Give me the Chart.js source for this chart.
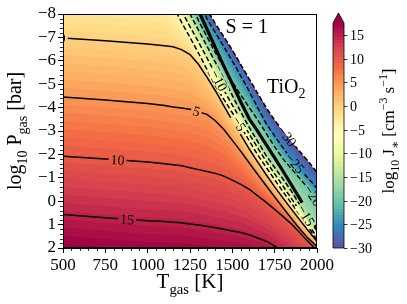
<!DOCTYPE html>
<html>
<head>
<meta charset="utf-8">
<script src="https://cdn.jsdelivr.net/npm/chart.js@4.4.1/dist/chart.umd.min.js"></script>
<style>
  html, body { margin: 0; padding: 0; background: #fff; }
</style>
</head>
<body>
<canvas id="grafico" width="407" height="304"></canvas>
<script>
// Temperaturas de la malla (K)
const tGrid = [500, 750, 1000, 1100, 1150, 1200, 1250, 1300, 1350, 1400, 1450, 1500, 1550, 1600, 1650, 1700, 1750, 1800, 1850, 1900, 1950, 2000];

// log10 P (bar) de cada contorno de log10 J*
const nivel15 = [0.57, 0.71, 0.84, 0.87, 0.90, 0.92, 0.97, 1.02, 1.07, 1.13, 1.20, 1.27, 1.34, 1.44, 1.57, 1.71, 1.92, 2.15, 2.39, 2.62, 2.90, 3.18];
const nivel10 = [-1.92, -1.80, -1.67, -1.60, -1.56, -1.52, -1.43, -1.35, -1.27, -1.19, -1.07, -0.90, -0.72, -0.51, -0.23, 0.05, 0.35, 0.66, 0.98, 1.36, 1.74, 2.11];
const nivel5 = [-4.45, -4.33, -4.18, -4.09, -4.03, -3.98, -3.93, -3.82, -3.71, -3.44, -3.06, -2.60, -2.13, -1.63, -1.14, -0.66, -0.18, 0.29, 0.75, 1.20, 1.60, 1.94];
const nivel0 = [-6.97, -6.86, -6.72, -6.64, -6.60, -6.48, -6.27, -5.85, -5.30, -4.72, -4.07, -3.44, -2.83, -2.23, -1.67, -1.13, -0.61, -0.12, 0.35, 0.82, 1.27, 1.72];
const nivelM5 = [-9.41, -9.34, -9.21, -9.03, -8.33, -7.65, -7.00, -6.33, -5.63, -4.93, -4.35, -3.78, -3.19, -2.58, -1.98, -1.45, -0.92, -0.40, 0.10, 0.59, 1.12, 1.68];
const nivelM10 = [-10.31, -10.21, -10.10, -9.47, -8.95, -8.14, -7.46, -6.81, -6.13, -5.43, -4.74, -4.11, -3.48, -2.87, -2.27, -1.70, -1.17, -0.64, -0.10, 0.44, 0.99, 1.55];
const nivelM15 = [-11.17, -10.98, -10.80, -10.36, -9.65, -8.88, -8.00, -7.31, -6.63, -5.93, -5.22, -4.52, -3.81, -3.15, -2.55, -1.95, -1.44, -0.94, -0.42, 0.18, 0.79, 1.25];
const nivelM20 = [-12.03, -11.67, -11.32, -11.17, -10.30, -9.40, -8.52, -7.72, -7.04, -6.35, -5.72, -5.09, -4.54, -4.00, -3.48, -2.90, -2.32, -1.81, -1.38, -0.96, -0.54, 0.01];
const nivelM25 = [-12.88, -12.37, -11.86, -11.66, -11.27, -10.37, -9.46, -8.57, -7.80, -7.20, -6.60, -5.99, -5.35, -4.69, -3.99, -3.32, -2.79, -2.27, -1.79, -1.37, -0.96, -0.55];
const nivelM30 = [-13.74, -13.09, -12.44, -12.18, -12.06, -11.19, -10.10, -9.09, -8.22, -7.58, -7.03, -6.46, -5.84, -5.22, -4.61, -4.00, -3.46, -2.99, -2.53, -2.11, -1.69, -1.23];

const niveles = [-30, -25, -20, -15, -10, -5, 0, 5, 10, 15];
const contornos = [nivelM30, nivelM25, nivelM20, nivelM15, nivelM10, nivelM5, nivel0, nivel5, nivel10, nivel15];

// Línea gruesa negra
const tGruesa = [1300, 1350, 1400, 1450, 1500, 1550, 1600, 1650, 1700, 1750, 1800, 1850, 1900, 1950, 2000];
const pGruesa = [-8.14, -7.36, -6.56, -5.77, -5.01, -4.24, -3.52, -2.98, -2.42, -1.85, -1.28, -0.69, -0.09, 0.54, 1.16];

// Etiquetas de los contornos (nivel y temperatura donde van)
const etiquetaNivel = [0, 5, 10, 15, -30, -25, -20, -15, -10, -5];
const etiquetaT = [495, 1288, 822, 878, 1823, 1870, 1977, 1935, 1420, 1540];

// Ejes y barra de color
const ticksX = [500, 750, 1000, 1250, 1500, 1750, 2000];
const ticksCb = [-30, -25, -20, -15, -10, -5, 0, 5, 10, 15];
const cbMin = -30, cbMax = 17.5, nBandas = 68;

const spectral = ['#5e4fa2', '#3288bd', '#66c2a5', '#abdda4', '#e6f598', '#ffffbf', '#fee08b', '#fdae61', '#f46d43', '#d53e4f', '#9e0142'];
const fuente = "'Liberation Serif', 'DejaVu Serif', serif";
const fmt = (v) => (v < 0 ? '\u2212' + Math.abs(v) : String(v));

function hexRgb(h) {
  return [parseInt(h.slice(1, 3), 16), parseInt(h.slice(3, 5), 16), parseInt(h.slice(5, 7), 16)];
}
const stops = spectral.map(hexRgb);
function cmap(f) {
  f = Math.min(1, Math.max(0, f));
  const s = f * (stops.length - 1);
  const i = Math.min(stops.length - 2, Math.floor(s));
  const u = s - i;
  return stops[i].map((c, k) => Math.round(c + u * (stops[i + 1][k] - c)));
}
const paso = (cbMax - cbMin) / nBandas;
function colorBanda(J) {
  if (J >= cbMax) return cmap(1);
  const i = Math.floor((J - cbMin) / paso);
  return cmap((i + 0.5) / nBandas);
}

function pEnT(arr, t) {
  if (t <= tGrid[0]) return arr[0];
  for (let i = 1; i < tGrid.length; i++) {
    if (t <= tGrid[i]) {
      const f = (t - tGrid[i - 1]) / (tGrid[i] - tGrid[i - 1]);
      return arr[i - 1] + f * (arr[i] - arr[i - 1]);
    }
  }
  return arr[arr.length - 1];
}
function jDesdeP(ps, p) {
  if (p < ps[0]) return null;
  for (let k = 0; k < ps.length - 1; k++) {
    if (p <= ps[k + 1]) return niveles[k] + 5 * (p - ps[k]) / (ps[k + 1] - ps[k]);
  }
  const n = ps.length - 1;
  return niveles[n] + 5 * (p - ps[n]) / (ps[n] - ps[n - 1]);
}

// Campo de color en un canvas aparte
function pintarCampo(chart) {
  const a = chart.chartArea;
  const w = Math.round(a.right - a.left), h = Math.round(a.bottom - a.top);
  const off = document.createElement('canvas');
  off.width = w; off.height = h;
  const octx = off.getContext('2d');
  const img = octx.createImageData(w, h);
  const xs = chart.scales.x, ys = chart.scales.y;
  for (let i = 0; i < w; i++) {
    const t = xs.getValueForPixel(a.left + i + 0.5);
    const ps = contornos.map((arr) => pEnT(arr, t));
    for (let j = 0; j < h; j++) {
      const p = ys.getValueForPixel(a.top + j + 0.5);
      const J = jDesdeP(ps, p);
      const k = (j * w + i) * 4;
      if (J === null || J < cbMin) {
        img.data[k] = 255; img.data[k + 1] = 255; img.data[k + 2] = 255; img.data[k + 3] = 255;
      } else {
        const c = colorBanda(J);
        img.data[k] = c[0]; img.data[k + 1] = c[1]; img.data[k + 2] = c[2]; img.data[k + 3] = 255;
      }
    }
  }
  octx.putImageData(img, 0, 0);
  return off;
}

// Texto con subíndices y superíndices
function textoRico(ctx, partes, x, y, size) {
  const medidas = partes.map(([txt, tipo]) => {
    const s = tipo === 'n' ? size : size * 0.7;
    ctx.font = s + 'px ' + fuente;
    return ctx.measureText(txt).width;
  });
  let cx = x - medidas.reduce((a, b) => a + b, 0) / 2;
  partes.forEach(([txt, tipo], i) => {
    const s = tipo === 'n' ? size : size * 0.7;
    ctx.font = s + 'px ' + fuente;
    const dy = tipo === 'sub' ? size * 0.28 : tipo === 'sup' ? -size * 0.42 : 0;
    ctx.fillText(txt, cx, y + dy);
    cx += medidas[i];
  });
}

const datasets = contornos.map((arr, k) => ({
  data: tGrid.map((t, i) => ({ x: t, y: arr[i] })),
  borderColor: '#000',
  borderWidth: 1.5,
  borderDash: niveles[k] < 0 ? [5, 2.5] : [],
  pointRadius: 0,
  tension: 0,
  fill: false,
  clip: 0,
}));
datasets.push({
  data: tGruesa.map((t, i) => ({ x: t, y: pGruesa[i] })),
  borderColor: '#000',
  borderWidth: 3.2,
  pointRadius: 0,
  tension: 0,
  fill: false,
  clip: 0,
});

const campoPlugin = {
  id: 'campo',
  beforeDatasetsDraw(chart) {
    const a = chart.chartArea;
    if (!chart.$campo) chart.$campo = pintarCampo(chart);
    chart.ctx.drawImage(chart.$campo, a.left, a.top);
  },
  afterDatasetsDraw(chart) {
    const { ctx, chartArea: a } = chart;
    const xs = chart.scales.x, ys = chart.scales.y;

    // etiquetas en línea de los contornos
    etiquetaNivel.forEach((lv, i) => {
      const arr = contornos[niveles.indexOf(lv)];
      const t = etiquetaT[i];
      const px = xs.getPixelForValue(t), py = ys.getPixelForValue(pEnT(arr, t));
      const x1 = xs.getPixelForValue(t - 15), y1 = ys.getPixelForValue(pEnT(arr, t - 15));
      const x2 = xs.getPixelForValue(t + 15), y2 = ys.getPixelForValue(pEnT(arr, t + 15));
      let ang = Math.atan2(y2 - y1, x2 - x1);
      if (ang > Math.PI / 2) ang -= Math.PI;
      if (ang < -Math.PI / 2) ang += Math.PI;
      const txt = fmt(lv);
      ctx.font = '14px ' + fuente;
      const bw = ctx.measureText(txt).width + 4, bh = 11;
      ctx.save();
      ctx.beginPath();
      ctx.rect(a.left, a.top, a.right - a.left, a.bottom - a.top);
      ctx.clip();
      ctx.translate(px, py);
      ctx.rotate(ang);
      ctx.beginPath();
      ctx.rect(-bw / 2, -bh / 2, bw, bh);
      ctx.rotate(-ang);
      ctx.translate(-px, -py);
      ctx.clip();
      ctx.drawImage(chart.$campo, a.left, a.top);
      ctx.translate(px, py);
      ctx.rotate(ang);
      ctx.fillStyle = '#000';
      ctx.textAlign = 'center';
      ctx.textBaseline = 'middle';
      ctx.fillText(txt, 0, 1);
      ctx.restore();
    });

    // marco y ticks menores
    ctx.save();
    ctx.strokeStyle = '#000';
    ctx.lineWidth = 1;
    ctx.strokeRect(a.left + 0.5, a.top + 0.5, a.right - a.left - 1, a.bottom - a.top - 1);
    ctx.lineWidth = 0.8;
    ctx.beginPath();
    for (let v = -8; v <= 2.001; v += 0.2) {
      if (Math.abs(v - Math.round(v)) < 0.01) continue;
      const y = Math.round(ys.getPixelForValue(v)) + 0.5;
      ctx.moveTo(a.left - 3, y); ctx.lineTo(a.left, y);
    }
    for (let v = 500; v <= 2000; v += 50) {
      if (v % 250 === 0) continue;
      const x = Math.round(xs.getPixelForValue(v)) + 0.5;
      ctx.moveTo(x, a.bottom); ctx.lineTo(x, a.bottom + 3);
    }
    ctx.stroke();

    // textos dentro del gráfico
    ctx.fillStyle = '#000';
    ctx.textAlign = 'left';
    ctx.textBaseline = 'alphabetic';
    ctx.font = '20px ' + fuente;
    ctx.fillText('S = 1', xs.getPixelForValue(1460), ys.getPixelForValue(-7.2));
    const tx = xs.getPixelForValue(1705), ty = ys.getPixelForValue(-4.62);
    ctx.fillText('TiO', tx, ty);
    const wT = ctx.measureText('TiO').width;
    ctx.font = '14px ' + fuente;
    ctx.fillText('2', tx + wT, ty + 5);
    ctx.restore();
  },
  afterDraw(chart) {
    const { ctx, chartArea: a } = chart;
    ctx.save();
    // barra de color
    const cbX = 333, cbW = 11, cbTop = 23, cbBot = a.bottom, tip = 13;
    const yCb = (v) => cbBot - (v - cbMin) / (cbMax - cbMin) * (cbBot - cbTop);
    for (let i = 0; i < nBandas; i++) {
      const v0 = cbMin + i * paso, v1 = v0 + paso;
      const c = cmap((i + 0.5) / nBandas);
      ctx.fillStyle = 'rgb(' + c.join(',') + ')';
      const yA = Math.floor(yCb(v1)), yB = Math.ceil(yCb(v0));
      ctx.fillRect(cbX, yA, cbW, yB - yA);
    }
    const co = cmap(1);
    ctx.fillStyle = 'rgb(' + co.join(',') + ')';
    ctx.beginPath();
    ctx.moveTo(cbX, cbTop); ctx.lineTo(cbX + cbW / 2, tip); ctx.lineTo(cbX + cbW, cbTop); ctx.closePath();
    ctx.fill();
    ctx.strokeStyle = '#000';
    ctx.lineWidth = 0.8;
    ctx.beginPath();
    ctx.moveTo(cbX, cbBot); ctx.lineTo(cbX, cbTop); ctx.lineTo(cbX + cbW / 2, tip);
    ctx.lineTo(cbX + cbW, cbTop); ctx.lineTo(cbX + cbW, cbBot); ctx.closePath();
    ctx.stroke();
    ctx.fillStyle = '#000';
    ctx.font = '14px ' + fuente;
    ctx.textAlign = 'left';
    ctx.textBaseline = 'middle';
    ticksCb.forEach((v) => {
      const y = Math.round(yCb(v)) + 0.5;
      ctx.beginPath();
      ctx.moveTo(cbX + cbW, y); ctx.lineTo(cbX + cbW + 3.5, y);
      ctx.stroke();
      ctx.fillText(fmt(v), cbX + cbW + 6, y + 1);
    });

    // títulos de los ejes
    ctx.textAlign = 'left';
    ctx.textBaseline = 'alphabetic';
    textoRico(ctx, [['T', 'n'], ['gas', 'sub'], [' [K]', 'n']], (a.left + a.right) / 2, 288, 21);
    ctx.save();
    ctx.translate(21, (a.top + a.bottom) / 2);
    ctx.rotate(-Math.PI / 2);
    textoRico(ctx, [['log', 'n'], ['10', 'sub'], [' P', 'n'], ['gas', 'sub'], [' [bar]', 'n']], 0, 0, 20);
    ctx.restore();
    ctx.save();
    ctx.translate(394, (a.top + a.bottom) / 2);
    ctx.rotate(-Math.PI / 2);
    textoRico(ctx, [['log', 'n'], ['10', 'sub'], [' J', 'n'], ['\u2217', 'sub'], [' [cm', 'n'], ['\u22123', 'sup'], [' s', 'n'], ['\u22121', 'sup'], [']', 'n']], 0, 0, 17);
    ctx.restore();
    ctx.restore();
  },
};

new Chart(document.getElementById('grafico').getContext('2d'), {
  type: 'line',
  data: { datasets: datasets },
  options: {
    responsive: false,
    animation: false,
    events: [],
    layout: { padding: { left: 0, top: 14, right: 90, bottom: 0 } },
    plugins: { legend: { display: false }, tooltip: { enabled: false } },
    scales: {
      x: {
        type: 'linear',
        min: 500,
        max: 2000,
        afterFit: (s) => { s.height = 56; },
        afterBuildTicks: (s) => { s.ticks = ticksX.map((v) => ({ value: v })); },
        grid: { drawOnChartArea: false, drawTicks: true, tickLength: 5, color: '#000' },
        border: { display: true, color: '#000' },
        ticks: { color: '#000', padding: 2, maxRotation: 0, font: { family: fuente, size: 17 }, callback: (v) => String(v) },
      },
      y: {
        type: 'linear',
        reverse: true,
        min: -8,
        max: 2,
        afterFit: (s) => { s.width = 63; },
        grid: { drawOnChartArea: false, drawTicks: true, tickLength: 5, color: '#000' },
        border: { display: true, color: '#000' },
        ticks: { color: '#000', stepSize: 1, padding: 2, font: { family: fuente, size: 17 }, callback: (v) => fmt(v) },
      },
    },
  },
  plugins: [campoPlugin],
});
</script>
</body>
</html>
